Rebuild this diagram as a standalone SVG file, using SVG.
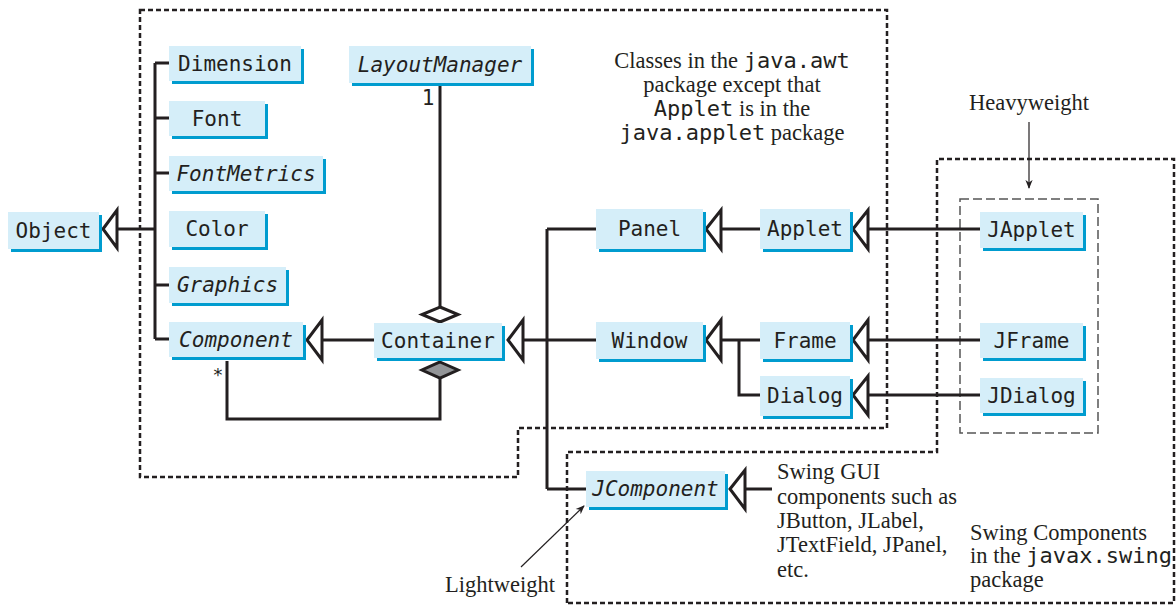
<svg xmlns="http://www.w3.org/2000/svg" width="1176" height="605" viewBox="0 0 1176 605">
<style>
.sh{fill:#009ccf}
.bx{fill:#d5eef9}
.t{font-family:"DejaVu Sans Mono","Liberation Mono",monospace;font-size:21px;fill:#231f20;text-anchor:middle}
.i{font-style:italic}
.ln{fill:none;stroke:#231f20;stroke-width:3}
.tri{fill:#fff;stroke:#231f20;stroke-width:3;stroke-linejoin:miter}
.dash{fill:none;stroke:#231f20;stroke-width:2.5;stroke-dasharray:5 3}
.hw{fill:none;stroke:#555;stroke-width:1.5;stroke-dasharray:9 4}
.s{font-family:"Liberation Serif","Times New Roman",serif;font-size:22.5px;fill:#231f20}
.m{font-family:"DejaVu Sans Mono","Liberation Mono",monospace;font-size:22px}
.thin{fill:none;stroke:#231f20;stroke-width:1.2}
</style>
<defs>
<marker id="ah" viewBox="0 0 10 10" refX="9" refY="5" markerWidth="9" markerHeight="9" markerUnits="userSpaceOnUse" orient="auto"><path d="M0,1 L10,5 L0,9 L3,5 Z" fill="#231f20"/></marker>
</defs>
<rect width="1176" height="605" fill="#fff"/>
<g id="packages">
<path class="dash" d="M140,10 H887 V428 H518 V477 H140 Z"/>
<path class="dash" d="M567,603 V452 H937 V159 H1174 V603 Z"/>
<rect class="hw" x="960" y="199" width="138" height="234"/>
</g>
<g id="connectors">
<path class="ln" d="M117,229 H155 M155,63 V339 M155,63 H169 M155,118 H169 M155,173 H169 M155,285 H169 M155,339 H169"/>
<path class="tri" d="M103,229 L117,210 L117,248 Z"/>
<path class="ln" d="M322,340 H374"/>
<path class="tri" d="M307,340 L322,320 L322,360 Z"/>
<path class="ln" d="M523,340 H596 M547,229 V489 M547,229 H596 M547,489 H586"/>
<path class="tri" d="M508,340 L523,320 L523,360 Z"/>
<path class="ln" d="M721,229 H760"/>
<path class="tri" d="M706,229 L721,210 L721,249 Z"/>
<path class="ln" d="M868,229 H980"/>
<path class="tri" d="M853,229 L868,210 L868,249 Z"/>
<path class="ln" d="M721,340 H760 M739,340 V395 H760"/>
<path class="tri" d="M706,340 L721,320 L721,360 Z"/>
<path class="ln" d="M868,340 H980"/>
<path class="tri" d="M853,340 L868,320 L868,360 Z"/>
<path class="ln" d="M868,395 H980"/>
<path class="tri" d="M853,395 L868,376 L868,415 Z"/>
<path class="ln" d="M745,489 H772"/>
<path class="tri" d="M730,489 L745,470 L745,509 Z"/>
<path class="ln" d="M440,86 V307"/>
<path class="tri" d="M440,307 L458,314.5 L440,322 L422,314.5 Z"/>
<path class="ln" d="M440,378 V419 H227 V361"/>
<path d="M440,362 L458,370 L440,378 L422,370 Z" fill="#939598" stroke="#231f20" stroke-width="3"/>
<text x="428" y="105" class="t">1</text>
<text x="218" y="381" class="t" style="font-size:18px">*</text>
<line class="thin" x1="1029" y1="122" x2="1029" y2="188" marker-end="url(#ah)"/>
<line class="thin" x1="521" y1="567" x2="584" y2="506" marker-end="url(#ah)"/>
</g>
<g id="Object"><rect class="sh" x="11" y="215" width="91" height="37"/><rect class="bx" x="8" y="212" width="91" height="37"/><text class="t" x="53.5" y="238">Object</text></g>
<g id="Dimension"><rect class="sh" x="172" y="49" width="132" height="35"/><rect class="bx" x="169" y="46" width="132" height="35"/><text class="t" x="235" y="71">Dimension</text></g>
<g id="Font"><rect class="sh" x="172" y="104" width="96" height="35"/><rect class="bx" x="169" y="101" width="96" height="35"/><text class="t" x="217" y="126">Font</text></g>
<g id="FontMetrics"><rect class="sh" x="172" y="159" width="154" height="35"/><rect class="bx" x="169" y="156" width="154" height="35"/><text class="t i" x="246" y="181">FontMetrics</text></g>
<g id="Color"><rect class="sh" x="172" y="214" width="96" height="36"/><rect class="bx" x="169" y="211" width="96" height="36"/><text class="t" x="217" y="236">Color</text></g>
<g id="Graphics"><rect class="sh" x="172" y="270" width="117" height="36"/><rect class="bx" x="169" y="267" width="117" height="36"/><text class="t i" x="227.5" y="292">Graphics</text></g>
<g id="Component"><rect class="sh" x="172" y="325" width="134" height="35"/><rect class="bx" x="169" y="322" width="134" height="35"/><text class="t i" x="236" y="347">Component</text></g>
<g id="LayoutManager"><rect class="sh" x="352" y="49" width="182" height="37"/><rect class="bx" x="349" y="46" width="182" height="37"/><text class="t i" x="440" y="72">LayoutManager</text></g>
<g id="Container"><rect class="sh" x="377" y="326" width="128" height="35"/><rect class="bx" x="374" y="323" width="128" height="35"/><text class="t" x="438" y="348">Container</text></g>
<g id="Panel"><rect class="sh" x="599" y="212" width="107" height="40"/><rect class="bx" x="596" y="209" width="107" height="40"/><text class="t" x="649.5" y="236">Panel</text></g>
<g id="Applet"><rect class="sh" x="763" y="212" width="90" height="40"/><rect class="bx" x="760" y="209" width="90" height="40"/><text class="t" x="805" y="236">Applet</text></g>
<g id="Window"><rect class="sh" x="599" y="325" width="107" height="37"/><rect class="bx" x="596" y="322" width="107" height="37"/><text class="t" x="649.5" y="348">Window</text></g>
<g id="Frame"><rect class="sh" x="763" y="325" width="90" height="37"/><rect class="bx" x="760" y="322" width="90" height="37"/><text class="t" x="805" y="348">Frame</text></g>
<g id="Dialog"><rect class="sh" x="763" y="379" width="90" height="40"/><rect class="bx" x="760" y="376" width="90" height="40"/><text class="t" x="805" y="403">Dialog</text></g>
<g id="JApplet"><rect class="sh" x="983" y="215" width="103" height="36"/><rect class="bx" x="980" y="212" width="103" height="36"/><text class="t" x="1031.5" y="237">JApplet</text></g>
<g id="JFrame"><rect class="sh" x="983" y="326" width="103" height="35"/><rect class="bx" x="980" y="323" width="103" height="35"/><text class="t" x="1031.5" y="348">JFrame</text></g>
<g id="JDialog"><rect class="sh" x="983" y="381" width="103" height="35"/><rect class="bx" x="980" y="378" width="103" height="35"/><text class="t" x="1031.5" y="403">JDialog</text></g>
<g id="JComponent"><rect class="sh" x="589" y="474" width="139" height="36"/><rect class="bx" x="586" y="471" width="139" height="36"/><text class="t i" x="655.5" y="496">JComponent</text></g>
<g id="labels">
<text class="s" x="732" y="68" text-anchor="middle">Classes in the <tspan class="m">java.awt</tspan></text>
<text class="s" x="732" y="92" text-anchor="middle">package except that</text>
<text class="s" x="732" y="116" text-anchor="middle"><tspan class="m">Applet</tspan> is in the</text>
<text class="s" x="732" y="140" text-anchor="middle"><tspan class="m">java.applet</tspan> package</text>
<text class="s" x="1029" y="110" text-anchor="middle">Heavyweight</text>
<text class="s" x="445" y="592">Lightweight</text>
<text class="s" x="777" y="479">Swing GUI</text>
<text class="s" x="777" y="504">components such as</text>
<text class="s" x="777" y="528">JButton, JLabel,</text>
<text class="s" x="777" y="552">JTextField, JPanel,</text>
<text class="s" x="777" y="577">etc.</text>
<text class="s" x="970" y="540">Swing Components</text>
<text class="s" x="970" y="563">in the <tspan class="m">javax.swing</tspan></text>
<text class="s" x="970" y="587">package</text>
</g>
</svg>
